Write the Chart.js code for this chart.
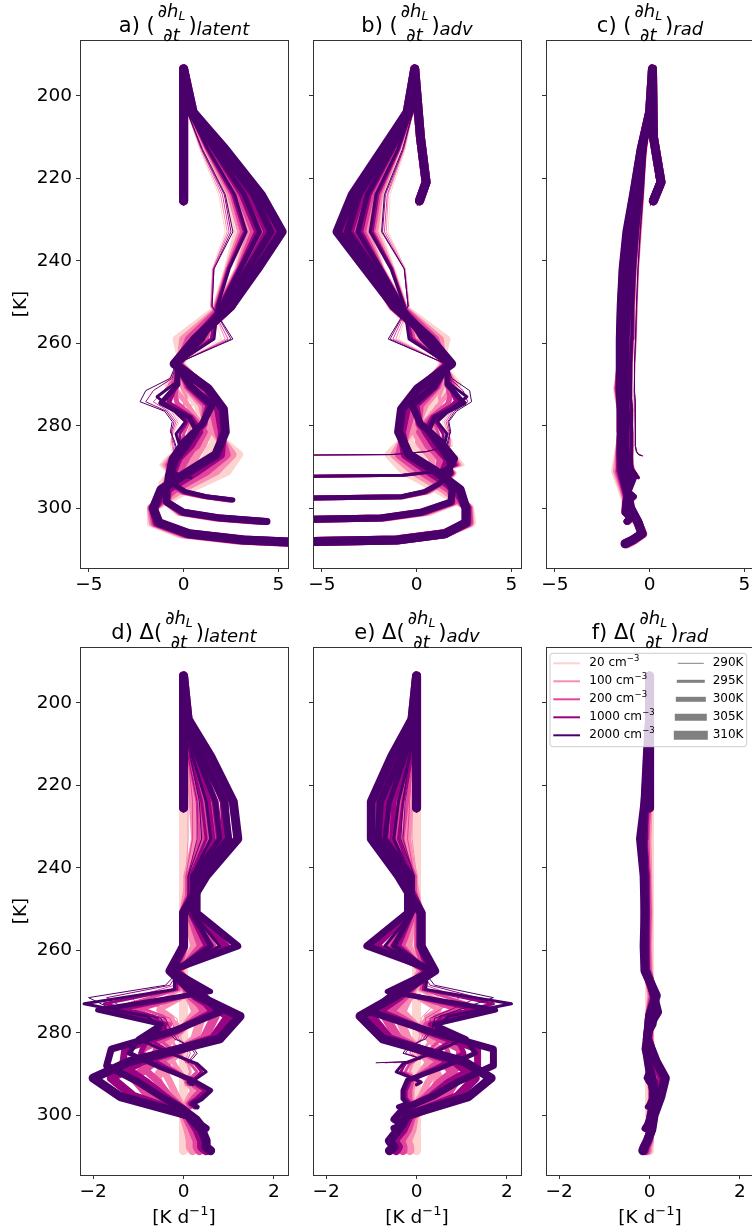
<!DOCTYPE html>
<html>
<head>
<meta charset="utf-8">
<script src="https://cdn.jsdelivr.net/npm/chart.js@4.4.0/dist/chart.umd.min.js"></script>
<style>
  html, body { margin: 0; padding: 0; background: #fff; overflow: hidden; }
  body { width: 752px; height: 1230px; position: relative; }
  canvas { position: absolute; }
</style>
</head>
<body>
<canvas id="pa"></canvas>
<canvas id="pb"></canvas>
<canvas id="pc"></canvas>
<canvas id="pd"></canvas>
<canvas id="pe"></canvas>
<canvas id="pf"></canvas>
<script>
// categories
const concentrations = ['20', '100', '200', '1000', '2000'];
const sstLabels = ['290K', '295K', '300K', '305K', '310K'];
const yTicks = [200, 220, 240, 260, 280, 300];
const xTicksTop = [-5, 0, 5];
const xTicksBottom = [-2, 0, 2];

// temperature levels of each run [K]: surface ... cold point, then stratosphere
const lev290 = [287.3, 287, 286.3, 285, 283.5, 281.5, 279, 276.5, 274.2, 271.5, 268.5, 265, 259, 251, 242, 233, 224, 213, 204, 199.5, 210, 221, 226.5];
const lev295 = [292.6, 292, 291, 289.5, 287.5, 285, 282, 279, 276, 273, 269.5, 265, 259, 251, 242, 233, 224, 213, 204, 198.5, 210, 221, 226];
const lev300 = [298, 297.2, 296, 294, 291.5, 288.5, 285, 281.5, 278, 274.5, 270, 265, 259, 251, 242, 233, 224, 213, 204, 197.5, 210, 221, 225.5];
const lev305 = [303.2, 302.4, 301, 298.5, 295.5, 292, 288, 284, 279.5, 275, 270.5, 265, 259, 251, 242, 233, 224, 213, 204, 195.5, 210, 221, 225.5];
const lev310 = [308.6, 307.7, 306.2, 303.5, 300, 295.5, 291, 287, 281.5, 276, 271, 265, 259, 251, 242, 233, 224, 213, 204, 193.5, 210, 221, 225.5];

const zeroRow = [0, 0, 0, 0, 0, 0, 0, 0, 0, 0, 0, 0, 0, 0, 0, 0, 0, 0, 0, 0, 0, 0, 0];

// a) latent heating [K/d], rows: 20, 100, 200, 1000, 2000 cm-3
const latent290 = [
  [-0.2, -0.4, -0.6, -0.7, -0.7, -0.5, -0.2, -0.5, -0.7, 0.1, -0.3, -0.3, 2.0, 1.4, 1.5, 2.2, 1.85, 0.85, 0.2, 0, 0, 0, 0],
  [-0.15, -0.35, -0.55, -0.6, -0.65, -0.55, -0.3, -0.65, -1.2, -0.55, -0.4, -0.3, 2.2, 1.45, 1.55, 2.3, 1.95, 0.9, 0.2, 0, 0, 0, 0],
  [-0.15, -0.35, -0.5, -0.55, -0.6, -0.6, -0.4, -0.8, -1.6, -1.05, -0.5, -0.35, 2.35, 1.45, 1.55, 2.4, 2.05, 0.95, 0.2, 0, 0, 0, 0],
  [-0.1, -0.3, -0.45, -0.45, -0.55, -0.65, -0.5, -0.9, -2.0, -1.6, -0.6, -0.4, 2.5, 1.5, 1.6, 2.5, 2.15, 0.95, 0.2, 0, 0, 0, 0],
  [-0.1, -0.3, -0.4, -0.4, -0.5, -0.7, -0.6, -1.0, -2.3, -2.0, -0.7, -0.4, 2.6, 1.5, 1.6, 2.6, 2.2, 1.0, 0.2, 0, 0, 0, 0]
];
const latent295 = [
  [0.2, -0.3, -0.9, -1.2, -0.8, 0.1, 0.5, 0.6, 0.2, 0.8, -0.2, -0.2, 0.8, 1.6, 2.2, 2.7, 2.2, 1.1, 0.25, 0, 0, 0, 0],
  [0.25, -0.25, -0.8, -1.05, -0.7, 0.0, 0.25, 0.45, -0.05, 0.15, -0.25, -0.25, 1.05, 1.65, 2.25, 2.9, 2.35, 1.15, 0.25, 0, 0, 0, 0],
  [0.3, -0.25, -0.75, -0.9, -0.65, -0.05, 0.0, 0.3, -0.25, -0.4, -0.3, -0.3, 1.25, 1.7, 2.3, 3.05, 2.5, 1.2, 0.3, 0, 0, 0, 0],
  [0.35, -0.2, -0.65, -0.8, -0.55, -0.15, -0.2, 0.2, -0.45, -0.95, -0.35, -0.35, 1.45, 1.75, 2.35, 3.2, 2.6, 1.25, 0.3, 0, 0, 0, 0],
  [0.4, -0.2, -0.6, -0.7, -0.5, -0.2, -0.4, 0.1, -0.6, -1.4, -0.4, -0.4, 1.6, 1.8, 2.4, 3.3, 2.7, 1.3, 0.3, 0, 0, 0, 0]
];
const latent300 = [
  [2.3, 1.0, -0.3, -1.2, -0.8, 0.1, 1.4, 1.7, 0.8, 0.7, -0.9, -0.1, 0.4, 1.8, 2.8, 3.2, 2.5, 1.3, 0.25, 0, 0, 0, 0],
  [2.4, 1.05, -0.2, -1.0, -0.75, -0.05, 1.05, 1.4, 0.65, 0.15, -0.7, -0.15, 0.6, 1.85, 2.85, 3.45, 2.7, 1.4, 0.25, 0, 0, 0, 0],
  [2.45, 1.1, -0.1, -0.85, -0.7, -0.2, 0.75, 1.15, 0.5, -0.35, -0.55, -0.2, 0.75, 1.9, 2.9, 3.65, 2.9, 1.45, 0.3, 0, 0, 0, 0],
  [2.55, 1.15, 0.0, -0.7, -0.65, -0.3, 0.45, 0.9, 0.4, -0.8, -0.4, -0.25, 0.9, 1.95, 2.95, 3.85, 3.05, 1.55, 0.3, 0, 0, 0, 0],
  [2.6, 1.2, 0.1, -0.6, -0.6, -0.4, 0.2, 0.7, 0.3, -1.2, -0.3, -0.3, 1.0, 2.0, 3.0, 4.0, 3.2, 1.6, 0.3, 0, 0, 0, 0]
];
const latent305 = [
  [3.9, 1.6, -0.3, -0.9, -0.4, 0.2, 1.1, 1.6, 1.2, 0.7, 0.0, -0.1, -0.4, 1.9, 3.1, 3.6, 2.8, 1.5, 0.3, 0, 0, 0, 0],
  [4.05, 1.7, -0.2, -0.9, -0.55, -0.1, 0.6, 1.1, 1.15, 0.95, 0.1, -0.2, -0.05, 2.0, 3.2, 3.9, 3.05, 1.6, 0.3, 0, 0, 0, 0],
  [4.2, 1.8, -0.15, -0.9, -0.7, -0.35, 0.15, 0.7, 1.1, 1.15, 0.2, -0.25, 0.25, 2.05, 3.25, 4.15, 3.3, 1.7, 0.35, 0, 0, 0, 0],
  [4.3, 1.9, -0.05, -0.9, -0.8, -0.6, -0.25, 0.3, 1.05, 1.35, 0.3, -0.35, 0.55, 2.15, 3.35, 4.4, 3.5, 1.8, 0.4, 0, 0, 0, 0],
  [4.4, 2.0, 0.0, -0.9, -0.9, -0.8, -0.6, 0.0, 1.0, 1.5, 0.4, -0.4, 0.8, 2.2, 3.4, 4.6, 3.7, 1.9, 0.4, 0, 0, 0, 0]
];
const latent310 = [
  [6.9, 2.7, -0.2, -1.7, -1.7, 0.2, 2.3, 2.9, 1.4, 0.85, 1.0, -0.2, 0.6, 2.5, 3.4, 4.0, 3.0, 1.6, 0.4, 0, 0, 0, 0],
  [7.1, 2.85, -0.05, -1.6, -1.7, -0.2, 1.7, 2.55, 1.65, 1.25, 1.1, -0.3, 0.6, 2.5, 3.55, 4.35, 3.35, 1.8, 0.4, 0, 0, 0, 0],
  [7.25, 3.0, 0.1, -1.5, -1.65, -0.55, 1.2, 2.25, 1.85, 1.55, 1.15, -0.35, 0.6, 2.5, 3.7, 4.65, 3.6, 1.95, 0.45, 0, 0, 0, 0],
  [7.4, 3.1, 0.2, -1.4, -1.6, -0.9, 0.7, 1.95, 2.05, 1.85, 1.25, -0.45, 0.6, 2.5, 3.8, 4.95, 3.9, 2.1, 0.5, 0, 0, 0, 0],
  [7.5, 3.2, 0.3, -1.3, -1.6, -1.2, 0.3, 1.7, 2.2, 2.1, 1.3, -0.5, 0.6, 2.5, 3.9, 5.2, 4.1, 2.2, 0.5, 0, 0, 0, 0]
];

// b) advection
const adv290 = [
  [-12, -1.4, 0.4, 1.9, 1.85, 1.6, 1.35, 1.7, 1.9, 1.1, 1.45, 1.4, -0.95, -0.4, -0.6, -1.5, -1.4, -0.6, -0.2, -0.05, 0.15, 0.4, 0.05],
  [-12, -1.4, 0.45, 1.8, 1.8, 1.65, 1.45, 1.8, 2.2, 1.6, 1.55, 1.45, -1.1, -0.4, -0.6, -1.6, -1.5, -0.65, -0.2, -0.05, 0.15, 0.4, 0.05],
  [-12, -1.4, 0.45, 1.75, 1.75, 1.7, 1.55, 1.9, 2.45, 2.05, 1.65, 1.5, -1.25, -0.45, -0.65, -1.7, -1.55, -0.7, -0.2, -0.05, 0.15, 0.4, 0.05],
  [-12, -1.35, 0.5, 1.65, 1.7, 1.75, 1.65, 2.0, 2.7, 2.45, 1.75, 1.5, -1.4, -0.45, -0.65, -1.8, -1.65, -0.7, -0.2, -0.05, 0.15, 0.4, 0.05],
  [-12, -1.3, 0.5, 1.6, 1.65, 1.8, 1.7, 2.1, 2.9, 2.8, 1.85, 1.55, -1.5, -0.45, -0.65, -1.85, -1.7, -0.75, -0.2, -0.05, 0.15, 0.4, 0.05]
];
const adv295 = [
  [-12, -0.8, 1.3, 2.45, 2.1, 1.1, 0.65, 0.65, 1.1, 0.55, 1.45, 1.4, 0.3, -0.55, -1.2, -1.95, -1.75, -0.85, -0.25, -0.1, 0.2, 0.45, 0.1],
  [-12, -0.75, 1.25, 2.3, 2.0, 1.2, 0.95, 0.8, 1.3, 1.2, 1.5, 1.45, 0.1, -0.6, -1.25, -2.1, -1.85, -0.9, -0.25, -0.1, 0.2, 0.45, 0.1],
  [-12, -0.75, 1.25, 2.2, 1.95, 1.3, 1.15, 0.9, 1.5, 1.7, 1.55, 1.55, -0.1, -0.6, -1.3, -2.25, -1.95, -0.95, -0.25, -0.1, 0.2, 0.45, 0.1],
  [-12, -0.7, 1.2, 2.1, 1.85, 1.4, 1.4, 1.0, 1.65, 2.25, 1.6, 1.6, -0.25, -0.65, -1.3, -2.35, -2.05, -0.95, -0.3, -0.1, 0.2, 0.45, 0.1],
  [-12, -0.7, 1.2, 2.0, 1.8, 1.45, 1.6, 1.1, 1.8, 2.65, 1.65, 1.65, -0.4, -0.65, -1.35, -2.45, -2.15, -1.0, -0.3, -0.1, 0.2, 0.45, 0.1]
];
const adv300 = [
  [-12, -0.6, 0.7, 1.5, 2.0, 1.15, -0.15, -0.5, 0.55, 0.75, 2.25, 1.3, 0.8, -0.7, -1.8, -2.4, -2.0, -1.05, -0.25, -0.1, 0.2, 0.5, 0.15],
  [-12, -0.65, 0.6, 1.4, 1.95, 1.3, 0.25, -0.15, 0.65, 1.25, 2.05, 1.4, 0.65, -0.75, -1.85, -2.6, -2.2, -1.15, -0.25, -0.1, 0.2, 0.5, 0.15],
  [-12, -0.7, 0.55, 1.35, 1.9, 1.45, 0.55, 0.1, 0.75, 1.7, 1.9, 1.45, 0.5, -0.75, -1.85, -2.8, -2.35, -1.2, -0.25, -0.1, 0.2, 0.5, 0.15],
  [-12, -0.75, 0.45, 1.25, 1.85, 1.6, 0.9, 0.4, 0.85, 2.15, 1.75, 1.55, 0.4, -0.8, -1.9, -2.95, -2.5, -1.25, -0.3, -0.1, 0.2, 0.5, 0.15],
  [-12, -0.8, 0.4, 1.2, 1.8, 1.7, 1.15, 0.6, 0.95, 2.5, 1.6, 1.6, 0.3, -0.8, -1.9, -3.1, -2.6, -1.3, -0.3, -0.1, 0.2, 0.5, 0.15]
];
const adv305 = [
  [-12, -1.6, 0.7, 2.1, 1.55, 0.6, 0.3, -0.4, -0.05, 0.75, 1.4, 1.3, 1.6, -0.75, -2.05, -2.8, -2.25, -1.2, -0.3, -0.1, 0.2, 0.5, 0.15],
  [-12, -1.7, 0.55, 2.0, 1.65, 0.85, 0.8, 0.1, 0.05, 0.45, 1.25, 1.4, 1.25, -0.8, -2.1, -3.05, -2.5, -1.3, -0.3, -0.1, 0.2, 0.5, 0.15],
  [-12, -1.75, 0.45, 1.95, 1.75, 1.1, 1.25, 0.55, 0.1, 0.2, 1.1, 1.5, 1.0, -0.85, -2.15, -3.25, -2.7, -1.4, -0.35, -0.1, 0.2, 0.5, 0.15],
  [-12, -1.85, 0.3, 1.85, 1.85, 1.3, 1.65, 0.95, 0.15, -0.05, 1.0, 1.6, 0.7, -0.9, -2.2, -3.5, -2.9, -1.5, -0.4, -0.1, 0.2, 0.5, 0.15],
  [-12, -1.9, 0.2, 1.8, 1.9, 1.5, 2.0, 1.3, 0.2, -0.25, 0.9, 1.7, 0.5, -0.95, -2.25, -3.65, -3.05, -1.55, -0.4, -0.1, 0.2, 0.5, 0.15]
];
const adv310 = [
  [-12, -1.2, 1.4, 2.9, 2.8, 1.15, -0.65, -1.45, -0.2, 0.45, 0.5, 1.45, 0.65, -1.3, -2.3, -3.2, -2.4, -1.25, -0.4, -0.1, 0.2, 0.5, 0.15],
  [-12, -1.15, 1.45, 2.8, 2.75, 1.5, -0.15, -1.15, -0.4, 0.1, 0.35, 1.55, 0.7, -1.25, -2.4, -3.5, -2.7, -1.4, -0.45, -0.1, 0.2, 0.5, 0.15],
  [-12, -1.1, 1.45, 2.75, 2.7, 1.8, 0.25, -0.9, -0.6, -0.25, 0.25, 1.65, 0.7, -1.25, -2.5, -3.75, -2.95, -1.55, -0.45, -0.1, 0.2, 0.5, 0.15],
  [-12, -1.05, 1.5, 2.65, 2.65, 2.1, 0.65, -0.6, -0.8, -0.55, 0.15, 1.75, 0.75, -1.2, -2.6, -4.0, -3.2, -1.7, -0.5, -0.1, 0.2, 0.5, 0.15],
  [-12, -1.0, 1.5, 2.6, 2.6, 2.3, 1.0, -0.4, -0.95, -0.8, 0.05, 1.85, 0.75, -1.2, -2.7, -4.2, -3.4, -1.8, -0.5, -0.1, 0.2, 0.5, 0.15]
];

// c) radiation
const rad290 = [
  [-0.35, -0.5, -0.65, -0.75, -0.73, -0.75, -0.8, -0.83, -0.85, -0.85, -0.8, -0.76, -0.69, -0.64, -0.57, -0.43, -0.3, -0.18, 0.0, 0.05, 0.15, 0.4, 0.05],
  [-0.37, -0.53, -0.67, -0.75, -0.74, -0.75, -0.78, -0.81, -0.82, -0.83, -0.8, -0.77, -0.71, -0.66, -0.59, -0.45, -0.32, -0.19, 0.0, 0.05, 0.15, 0.4, 0.05],
  [-0.38, -0.55, -0.68, -0.75, -0.74, -0.75, -0.77, -0.79, -0.8, -0.82, -0.8, -0.78, -0.72, -0.67, -0.6, -0.47, -0.33, -0.19, 0.0, 0.05, 0.15, 0.4, 0.05],
  [-0.39, -0.58, -0.69, -0.75, -0.75, -0.75, -0.76, -0.77, -0.77, -0.81, -0.8, -0.79, -0.74, -0.69, -0.61, -0.49, -0.34, -0.2, 0.0, 0.05, 0.15, 0.4, 0.05],
  [-0.4, -0.6, -0.7, -0.75, -0.75, -0.75, -0.75, -0.75, -0.75, -0.8, -0.8, -0.8, -0.75, -0.7, -0.62, -0.5, -0.35, -0.2, 0.0, 0.05, 0.15, 0.4, 0.05]
];
const rad295 = [
  [-0.6, -0.65, -0.8, -0.9, -0.95, -0.9, -0.9, -1.0, -1.05, -1.1, -1.0, -0.95, -0.87, -0.82, -0.74, -0.55, -0.37, -0.21, 0.0, 0.1, 0.2, 0.45, 0.1],
  [-0.6, -0.67, -0.83, -0.92, -0.95, -0.92, -0.92, -0.98, -1.02, -1.07, -1.0, -0.97, -0.89, -0.84, -0.76, -0.58, -0.39, -0.22, 0.0, 0.1, 0.2, 0.45, 0.1],
  [-0.6, -0.68, -0.86, -0.93, -0.95, -0.93, -0.93, -0.97, -0.99, -1.04, -1.0, -0.98, -0.91, -0.86, -0.77, -0.61, -0.41, -0.23, 0.0, 0.1, 0.2, 0.45, 0.1],
  [-0.6, -0.69, -0.88, -0.94, -0.95, -0.94, -0.94, -0.96, -0.97, -1.02, -1.0, -0.99, -0.93, -0.88, -0.79, -0.63, -0.43, -0.24, 0.0, 0.1, 0.2, 0.45, 0.1],
  [-0.6, -0.7, -0.9, -0.95, -0.95, -0.95, -0.95, -0.95, -0.95, -1.0, -1.0, -1.0, -0.95, -0.9, -0.8, -0.65, -0.45, -0.25, 0.0, 0.1, 0.2, 0.45, 0.1]
];
const rad300 = [
  [-0.95, -0.8, -1.15, -1.2, -1.1, -1.1, -1.1, -1.12, -1.25, -1.35, -1.25, -1.12, -1.1, -1.0, -0.92, -0.73, -0.5, -0.25, 0.0, 0.1, 0.2, 0.5, 0.1],
  [-0.97, -0.8, -1.13, -1.18, -1.1, -1.12, -1.13, -1.14, -1.22, -1.3, -1.23, -1.14, -1.13, -1.03, -0.94, -0.77, -0.53, -0.27, 0.0, 0.1, 0.2, 0.5, 0.1],
  [-0.98, -0.8, -1.12, -1.17, -1.1, -1.13, -1.16, -1.16, -1.2, -1.27, -1.22, -1.16, -1.16, -1.06, -0.96, -0.8, -0.56, -0.28, 0.0, 0.1, 0.2, 0.5, 0.1],
  [-0.99, -0.8, -1.11, -1.16, -1.1, -1.14, -1.18, -1.18, -1.17, -1.23, -1.21, -1.18, -1.18, -1.08, -0.98, -0.82, -0.58, -0.29, 0.0, 0.1, 0.2, 0.5, 0.1],
  [-1.0, -0.8, -1.1, -1.15, -1.1, -1.15, -1.2, -1.2, -1.15, -1.2, -1.2, -1.2, -1.2, -1.1, -1.0, -0.85, -0.6, -0.3, 0.0, 0.1, 0.2, 0.5, 0.1]
];
const rad305 = [
  [-1.1, -0.95, -1.3, -1.3, -1.25, -0.9, -1.4, -1.3, -1.3, -1.55, -1.5, -1.3, -1.3, -1.23, -1.15, -0.9, -0.63, -0.35, 0.0, 0.1, 0.2, 0.55, 0.15],
  [-1.13, -0.97, -1.3, -1.28, -1.2, -0.87, -1.4, -1.33, -1.32, -1.49, -1.47, -1.33, -1.33, -1.27, -1.18, -0.95, -0.67, -0.37, 0.0, 0.1, 0.2, 0.55, 0.15],
  [-1.16, -0.98, -1.3, -1.27, -1.17, -0.85, -1.4, -1.36, -1.33, -1.44, -1.44, -1.36, -1.36, -1.3, -1.21, -0.98, -0.7, -0.38, 0.0, 0.1, 0.2, 0.55, 0.15],
  [-1.18, -0.99, -1.3, -1.26, -1.13, -0.82, -1.4, -1.38, -1.34, -1.39, -1.42, -1.38, -1.38, -1.33, -1.23, -1.02, -0.73, -0.39, 0.0, 0.1, 0.2, 0.55, 0.15],
  [-1.2, -1.0, -1.3, -1.25, -1.1, -0.8, -1.4, -1.4, -1.35, -1.35, -1.4, -1.4, -1.4, -1.35, -1.25, -1.05, -0.75, -0.4, 0.0, 0.1, 0.2, 0.55, 0.15]
];
const rad310 = [
  [-1.15, -0.78, -0.35, -0.65, -1.1, -1.45, -1.8, -1.65, -1.45, -1.5, -1.7, -1.45, -1.43, -1.4, -1.28, -1.0, -0.75, -0.4, 0.0, 0.15, 0.2, 0.6, 0.2],
  [-1.2, -0.82, -0.37, -0.63, -1.07, -1.37, -1.7, -1.6, -1.47, -1.5, -1.65, -1.48, -1.47, -1.43, -1.32, -1.06, -0.78, -0.42, 0.0, 0.15, 0.2, 0.6, 0.2],
  [-1.23, -0.85, -0.38, -0.62, -1.05, -1.31, -1.61, -1.57, -1.48, -1.5, -1.62, -1.5, -1.5, -1.45, -1.35, -1.09, -0.8, -0.43, 0.0, 0.15, 0.2, 0.6, 0.2],
  [-1.27, -0.88, -0.39, -0.61, -1.02, -1.25, -1.52, -1.53, -1.49, -1.5, -1.58, -1.53, -1.53, -1.48, -1.38, -1.16, -0.83, -0.44, 0.0, 0.15, 0.2, 0.6, 0.2],
  [-1.3, -0.9, -0.4, -0.6, -1.0, -1.2, -1.45, -1.5, -1.5, -1.5, -1.55, -1.55, -1.55, -1.5, -1.4, -1.2, -0.85, -0.45, 0.0, 0.15, 0.2, 0.6, 0.2]
];

// d) change in latent heating relative to 20 cm-3
const dLatent290 = [
  zeroRow,
  [0.05, 0.05, 0.05, 0.1, 0.05, -0.05, -0.1, -0.15, -0.5, -0.65, -0.1, 0.0, 0.2, 0.05, 0.05, 0.1, 0.1, 0.05, 0, 0, 0, 0, 0],
  [0.05, 0.05, 0.1, 0.15, 0.1, -0.1, -0.2, -0.3, -0.9, -1.15, -0.2, -0.05, 0.35, 0.05, 0.05, 0.2, 0.2, 0.1, 0, 0, 0, 0, 0],
  [0.1, 0.1, 0.15, 0.25, 0.15, -0.15, -0.3, -0.4, -1.3, -1.7, -0.3, -0.1, 0.5, 0.1, 0.1, 0.3, 0.3, 0.1, 0, 0, 0, 0, 0],
  [0.1, 0.1, 0.2, 0.3, 0.2, -0.2, -0.4, -0.5, -1.6, -2.1, -0.4, -0.1, 0.6, 0.1, 0.1, 0.4, 0.35, 0.15, 0, 0, 0, 0, 0]
];
const dLatent295 = [
  zeroRow,
  [0.05, 0.05, 0.1, 0.15, 0.1, -0.1, -0.25, -0.15, -0.25, -0.65, -0.05, -0.05, 0.25, 0.05, 0.05, 0.2, 0.15, 0.05, 0, 0, 0, 0, 0],
  [0.1, 0.05, 0.15, 0.3, 0.15, -0.15, -0.5, -0.3, -0.45, -1.2, -0.1, -0.1, 0.45, 0.1, 0.1, 0.35, 0.3, 0.1, 0.05, 0, 0, 0, 0],
  [0.15, 0.1, 0.25, 0.4, 0.25, -0.25, -0.7, -0.4, -0.65, -1.75, -0.15, -0.15, 0.65, 0.15, 0.15, 0.5, 0.4, 0.15, 0.05, 0, 0, 0, 0],
  [0.2, 0.1, 0.3, 0.5, 0.3, -0.3, -0.9, -0.5, -0.8, -2.2, -0.2, -0.2, 0.8, 0.2, 0.2, 0.6, 0.5, 0.2, 0.05, 0, 0, 0, 0]
];
const dLatent300 = [
  zeroRow,
  [0.1, 0.05, 0.1, 0.2, 0.05, -0.15, -0.35, -0.3, -0.15, -0.55, 0.2, -0.05, 0.2, 0.05, 0.05, 0.25, 0.2, 0.1, 0.0, 0, 0, 0, 0],
  [0.15, 0.1, 0.2, 0.35, 0.1, -0.3, -0.65, -0.55, -0.3, -1.05, 0.35, -0.1, 0.35, 0.1, 0.1, 0.45, 0.4, 0.15, 0.05, 0, 0, 0, 0],
  [0.25, 0.15, 0.3, 0.5, 0.15, -0.4, -0.95, -0.8, -0.4, -1.5, 0.5, -0.15, 0.5, 0.15, 0.15, 0.65, 0.55, 0.25, 0.05, 0, 0, 0, 0],
  [0.3, 0.2, 0.4, 0.6, 0.2, -0.5, -1.2, -1.0, -0.5, -1.9, 0.6, -0.2, 0.6, 0.2, 0.2, 0.8, 0.7, 0.3, 0.05, 0, 0, 0, 0]
];
const dLatent305 = [
  zeroRow,
  [0.15, 0.1, 0.1, 0.0, -0.15, -0.3, -0.5, -0.5, -0.05, 0.25, 0.1, -0.1, 0.35, 0.1, 0.1, 0.3, 0.25, 0.1, 0.0, 0, 0, 0, 0],
  [0.3, 0.2, 0.15, 0.0, -0.3, -0.55, -0.95, -0.9, -0.1, 0.45, 0.2, -0.15, 0.65, 0.15, 0.15, 0.55, 0.5, 0.2, 0.05, 0, 0, 0, 0],
  [0.4, 0.3, 0.25, 0.0, -0.4, -0.8, -1.35, -1.3, -0.15, 0.65, 0.3, -0.25, 0.95, 0.25, 0.25, 0.8, 0.7, 0.3, 0.1, 0, 0, 0, 0],
  [0.5, 0.4, 0.3, 0.0, -0.5, -1.0, -1.7, -1.6, -0.2, 0.8, 0.4, -0.3, 1.2, 0.3, 0.3, 1.0, 0.9, 0.4, 0.1, 0, 0, 0, 0]
];
const dLatent310 = [
  zeroRow,
  [0.2, 0.15, 0.15, 0.1, 0.0, -0.4, -0.6, -0.35, 0.25, 0.4, 0.1, -0.1, 0.0, 0.0, 0.15, 0.35, 0.35, 0.2, 0.0, 0, 0, 0, 0],
  [0.35, 0.3, 0.3, 0.2, 0.05, -0.75, -1.1, -0.65, 0.45, 0.7, 0.15, -0.15, 0.0, 0.0, 0.3, 0.65, 0.6, 0.35, 0.05, 0, 0, 0, 0],
  [0.5, 0.4, 0.4, 0.3, 0.1, -1.1, -1.6, -0.95, 0.65, 1.0, 0.25, -0.25, 0.0, 0.0, 0.4, 0.95, 0.9, 0.5, 0.1, 0, 0, 0, 0],
  [0.6, 0.5, 0.5, 0.4, 0.1, -1.4, -2.0, -1.2, 0.8, 1.25, 0.3, -0.3, 0.0, 0.0, 0.5, 1.2, 1.1, 0.6, 0.1, 0, 0, 0, 0]
];

// e) change in advection
const dAdv290 = [
  zeroRow,
  [-0.3, -0.05, 0.05, -0.1, -0.05, 0.05, 0.1, 0.1, 0.3, 0.5, 0.1, 0.05, -0.15, 0, 0, -0.1, -0.1, -0.05, 0, 0, 0, 0, 0],
  [-0.5, -0.1, 0.05, -0.15, -0.1, 0.1, 0.2, 0.2, 0.55, 0.95, 0.2, 0.1, -0.3, -0.05, -0.05, -0.2, -0.15, -0.1, 0, 0, 0, 0, 0],
  [-0.7, -0.15, 0.1, -0.25, -0.15, 0.15, 0.3, 0.3, 0.8, 1.35, 0.3, 0.1, -0.45, -0.05, -0.05, -0.3, -0.25, -0.1, 0, 0, 0, 0, 0],
  [-0.9, -0.2, 0.1, -0.3, -0.2, 0.2, 0.35, 0.4, 1.0, 1.7, 0.4, 0.15, -0.55, -0.05, -0.05, -0.35, -0.3, -0.15, 0, 0, 0, 0, 0]
];
const dAdv295 = [
  zeroRow,
  [0, 0.05, -0.05, -0.15, -0.1, 0.1, 0.3, 0.15, 0.2, 0.65, 0.05, 0.05, -0.2, -0.05, -0.05, -0.15, -0.1, -0.05, 0, 0, 0, 0, 0],
  [0, 0.05, -0.05, -0.25, -0.15, 0.2, 0.5, 0.25, 0.4, 1.15, 0.1, 0.15, -0.4, -0.05, -0.1, -0.3, -0.2, -0.1, 0, 0, 0, 0, 0],
  [0, 0.1, -0.1, -0.35, -0.25, 0.3, 0.75, 0.35, 0.55, 1.7, 0.15, 0.2, -0.55, -0.1, -0.1, -0.4, -0.3, -0.1, -0.05, 0, 0, 0, 0],
  [0, 0.1, -0.1, -0.45, -0.3, 0.35, 0.95, 0.45, 0.7, 2.1, 0.2, 0.25, -0.7, -0.1, -0.15, -0.5, -0.4, -0.15, -0.05, 0, 0, 0, 0]
];
const dAdv300 = [
  zeroRow,
  [-0.1, -0.05, -0.1, -0.1, -0.05, 0.15, 0.4, 0.35, 0.1, 0.5, -0.2, 0.1, -0.15, -0.05, -0.05, -0.2, -0.2, -0.1, 0, 0, 0, 0, 0],
  [-0.2, -0.1, -0.15, -0.15, -0.1, 0.3, 0.7, 0.6, 0.2, 0.95, -0.35, 0.15, -0.3, -0.05, -0.05, -0.4, -0.35, -0.15, 0, 0, 0, 0, 0],
  [-0.3, -0.15, -0.25, -0.25, -0.15, 0.45, 1.05, 0.9, 0.3, 1.4, -0.5, 0.25, -0.4, -0.1, -0.1, -0.55, -0.5, -0.2, -0.05, 0, 0, 0, 0],
  [-0.4, -0.2, -0.3, -0.3, -0.2, 0.55, 1.3, 1.1, 0.4, 1.75, -0.65, 0.3, -0.5, -0.1, -0.1, -0.7, -0.6, -0.25, -0.05, 0, 0, 0, 0]
];
const dAdv305 = [
  zeroRow,
  [-0.1, -0.1, -0.15, -0.1, 0.1, 0.25, 0.5, 0.5, 0.1, -0.3, -0.15, 0.1, -0.35, -0.05, -0.05, -0.25, -0.25, -0.1, 0, 0, 0, 0, 0],
  [-0.25, -0.15, -0.25, -0.15, 0.2, 0.5, 0.95, 0.95, 0.15, -0.55, -0.3, 0.2, -0.6, -0.1, -0.1, -0.45, -0.45, -0.2, -0.05, 0, 0, 0, 0],
  [-0.4, -0.25, -0.4, -0.25, 0.3, 0.7, 1.35, 1.35, 0.2, -0.8, -0.4, 0.3, -0.9, -0.15, -0.15, -0.7, -0.65, -0.3, -0.1, 0, 0, 0, 0],
  [-0.5, -0.3, -0.5, -0.3, 0.35, 0.9, 1.7, 1.7, 0.25, -1.0, -0.5, 0.4, -1.1, -0.2, -0.2, -0.85, -0.8, -0.35, -0.1, 0, 0, 0, 0]
];
const dAdv310 = [
  zeroRow,
  [-0.15, -0.15, -0.2, -0.1, -0.05, 0.35, 0.5, 0.3, -0.2, -0.4, -0.15, 0.1, 0.05, 0.05, -0.1, -0.3, -0.3, -0.15, -0.05, 0, 0, 0, 0],
  [-0.3, -0.3, -0.35, -0.2, -0.1, 0.65, 0.9, 0.6, -0.4, -0.7, -0.25, 0.2, 0.05, 0.05, -0.2, -0.55, -0.55, -0.3, -0.05, 0, 0, 0, 0],
  [-0.45, -0.4, -0.5, -0.3, -0.15, 0.9, 1.3, 0.85, -0.6, -1.0, -0.35, 0.3, 0.1, 0.1, -0.3, -0.8, -0.8, -0.45, -0.1, 0, 0, 0, 0],
  [-0.6, -0.5, -0.6, -0.4, -0.2, 1.15, 1.65, 1.05, -0.75, -1.25, -0.45, 0.4, 0.1, 0.1, -0.4, -1.0, -1.0, -0.55, -0.1, 0, 0, 0, 0]
];

// f) change in radiative heating
const dRad290 = [
  zeroRow,
  [-0.02, -0.03, -0.02, 0, -0.01, 0, 0.02, 0.02, 0.03, 0.02, 0, -0.01, -0.02, -0.02, -0.02, -0.02, -0.02, -0.01, 0, 0, 0, 0, 0],
  [-0.03, -0.05, -0.03, 0, -0.01, 0, 0.03, 0.04, 0.05, 0.03, 0, -0.02, -0.03, -0.03, -0.03, -0.04, -0.03, -0.01, 0, 0, 0, 0, 0],
  [-0.04, -0.08, -0.04, 0, -0.02, 0, 0.04, 0.06, 0.08, 0.04, 0, -0.03, -0.05, -0.05, -0.04, -0.06, -0.04, -0.02, 0, 0, 0, 0, 0],
  [-0.05, -0.1, -0.05, 0, -0.02, 0, 0.05, 0.08, 0.1, 0.05, 0, -0.04, -0.06, -0.06, -0.05, -0.07, -0.05, -0.02, 0, 0, 0, 0, 0]
];
const dRad295 = [
  zeroRow,
  [0.0, -0.02, -0.03, -0.02, 0.0, -0.02, -0.02, 0.02, 0.03, 0.03, 0.0, -0.02, -0.02, -0.02, -0.02, -0.03, -0.02, -0.01, 0, 0, 0, 0, 0],
  [0.0, -0.03, -0.06, -0.03, 0.0, -0.03, -0.03, 0.03, 0.06, 0.06, 0.0, -0.03, -0.04, -0.04, -0.03, -0.06, -0.04, -0.02, 0, 0, 0, 0, 0],
  [0.0, -0.04, -0.08, -0.04, 0.0, -0.04, -0.04, 0.04, 0.08, 0.08, 0.0, -0.04, -0.06, -0.06, -0.05, -0.08, -0.06, -0.03, 0, 0, 0, 0, 0],
  [0.0, -0.05, -0.1, -0.05, 0.0, -0.05, -0.05, 0.05, 0.1, 0.1, 0.0, -0.05, -0.08, -0.08, -0.06, -0.1, -0.08, -0.04, 0, 0, 0, 0, 0]
];
const dRad300 = [
  zeroRow,
  [-0.02, 0.0, 0.02, 0.02, 0.0, -0.02, -0.03, -0.02, 0.03, 0.05, 0.02, -0.02, -0.03, -0.03, -0.02, -0.04, -0.03, -0.02, 0, 0, 0, 0, 0],
  [-0.03, 0.0, 0.03, 0.03, 0.0, -0.03, -0.06, -0.04, 0.06, 0.08, 0.03, -0.04, -0.06, -0.06, -0.04, -0.07, -0.06, -0.03, 0, 0, 0, 0, 0],
  [-0.04, 0.0, 0.04, 0.04, 0.0, -0.04, -0.08, -0.06, 0.08, 0.12, 0.04, -0.06, -0.08, -0.08, -0.06, -0.1, -0.08, -0.04, 0, 0, 0, 0, 0],
  [-0.05, 0.0, 0.05, 0.05, 0.0, -0.05, -0.1, -0.08, 0.1, 0.15, 0.05, -0.08, -0.1, -0.1, -0.08, -0.12, -0.1, -0.05, 0, 0, 0, 0, 0]
];
const dRad305 = [
  zeroRow,
  [-0.03, -0.02, 0.0, 0.02, 0.05, 0.03, 0.0, -0.03, -0.02, 0.06, 0.03, -0.03, -0.03, -0.04, -0.03, -0.05, -0.04, -0.02, 0, 0, 0, 0, 0],
  [-0.06, -0.03, 0.0, 0.03, 0.08, 0.06, 0.0, -0.06, -0.03, 0.11, 0.06, -0.06, -0.06, -0.07, -0.06, -0.08, -0.07, -0.03, 0, 0, 0, 0, 0],
  [-0.08, -0.04, 0.0, 0.04, 0.12, 0.08, 0.0, -0.08, -0.04, 0.16, 0.08, -0.08, -0.08, -0.1, -0.08, -0.12, -0.1, -0.04, 0, 0, 0, 0, 0],
  [-0.1, -0.05, 0.0, 0.05, 0.15, 0.1, 0.0, -0.1, -0.05, 0.2, 0.1, -0.1, -0.1, -0.12, -0.1, -0.15, -0.12, -0.05, 0, 0, 0, 0, 0]
];
const dRad310 = [
  zeroRow,
  [-0.05, -0.04, 0.0, 0.0, 0.03, 0.08, 0.1, 0.05, 0.0, 0.0, 0.05, -0.03, -0.04, -0.03, -0.04, -0.06, -0.03, -0.02, 0, 0, 0, 0, 0],
  [-0.08, -0.07, -0.03, 0.03, 0.05, 0.14, 0.19, 0.08, -0.03, 0.0, 0.08, -0.05, -0.07, -0.05, -0.07, -0.11, -0.05, -0.03, 0, 0, 0, 0, 0],
  [-0.12, -0.1, -0.04, 0.04, 0.08, 0.2, 0.28, 0.12, -0.04, 0.0, 0.12, -0.08, -0.1, -0.08, -0.1, -0.16, -0.08, -0.04, 0, 0, 0, 0, 0],
  [-0.15, -0.12, -0.05, 0.05, 0.1, 0.25, 0.35, 0.15, -0.05, 0.0, 0.15, -0.1, -0.12, -0.1, -0.12, -0.2, -0.1, -0.05, 0, 0, 0, 0, 0]
];

// styles
const concColors = ['#fcd3cf', '#f98cb2', '#e1449c', '#990381', '#49006a'];
const sstWidths = [1, 3, 5, 7, 9];
const FONT = "'DejaVu Sans', sans-serif";
const levels = [lev290, lev295, lev300, lev305, lev310];

const panels = [
  { id: 'pa', left: 80, top: 40, prefix: 'a) (', sub: 'latent', xr: [-5.47, 5.51], xt: xTicksTop, yLab: true,
    series: [latent290, latent295, latent300, latent305, latent310] },
  { id: 'pb', left: 313, top: 40, prefix: 'b) (', sub: 'adv', xr: [-5.47, 5.51], xt: xTicksTop,
    series: [adv290, adv295, adv300, adv305, adv310] },
  { id: 'pc', left: 546, top: 40, prefix: 'c) (', sub: 'rad', xr: [-5.47, 5.51], xt: xTicksTop,
    series: [rad290, rad295, rad300, rad305, rad310] },
  { id: 'pd', left: 80, top: 647, prefix: 'd) \u0394(', sub: 'latent', xr: [-2.29, 2.31], xt: xTicksBottom, yLab: true, xLab: true,
    series: [dLatent290, dLatent295, dLatent300, dLatent305, dLatent310] },
  { id: 'pe', left: 313, top: 647, prefix: 'e) \u0394(', sub: 'adv', xr: [-2.29, 2.31], xt: xTicksBottom, xLab: true,
    series: [dAdv290, dAdv295, dAdv300, dAdv305, dAdv310] },
  { id: 'pf', left: 546, top: 647, prefix: 'f) \u0394(', sub: 'rad', xr: [-2.29, 2.31], xt: xTicksBottom, xLab: true, legend: true,
    series: [dRad290, dRad295, dRad300, dRad305, dRad310] }
];

function fmtTick(v) {
  return v < 0 ? '\u2212' + Math.abs(v) : String(v);
}

function drawTitle(ctx, cx, top, prefix, sub) {
  const fMain = '21px ' + FONT, fFrac = '18px ' + FONT, fFracIt = 'italic 18px ' + FONT;
  const fL = 'italic 12.5px ' + FONT, fSub = 'italic 18px ' + FONT;
  ctx.font = fMain;
  const wPre = ctx.measureText(prefix).width, wClose = ctx.measureText(')').width;
  ctx.font = fFrac; const wD = ctx.measureText('\u2202').width;
  ctx.font = fFracIt; const wH = ctx.measureText('h').width, wT = ctx.measureText('t').width;
  ctx.font = fL; const wL = ctx.measureText('L').width;
  const wNum = wD + wH + wL, wDen = wD + wT;
  const wFrac = Math.max(wNum, wDen) + 6;
  ctx.font = fSub; const wSub = ctx.measureText(sub).width;
  let x = cx - (wPre + wFrac + wClose + wSub) / 2;
  ctx.fillStyle = '#000';
  ctx.textAlign = 'left';
  ctx.textBaseline = 'alphabetic';
  ctx.font = fMain; ctx.fillText(prefix, x, top - 8.3);
  x += wPre;
  let nx = x + (wFrac - wNum) / 2;
  ctx.font = fFrac; ctx.fillText('\u2202', nx, top - 23); nx += wD;
  ctx.font = fFracIt; ctx.fillText('h', nx, top - 23); nx += wH;
  ctx.font = fL; ctx.fillText('L', nx, top - 20);
  let dx = x + (wFrac - wDen) / 2;
  ctx.font = fFrac; ctx.fillText('\u2202', dx, top + 1); dx += wD;
  ctx.font = fFracIt; ctx.fillText('t', dx, top + 1);
  x += wFrac;
  ctx.font = fMain; ctx.fillText(')', x, top - 8.3);
  x += wClose;
  ctx.font = fSub; ctx.fillText(sub, x, top - 5);
}

function drawLegend(ctx, ca) {
  const x0 = ca.left + 4, y0 = ca.top + 6.3, w = 196.7, h = 93.4, r = 3;
  ctx.save();
  ctx.beginPath();
  ctx.moveTo(x0 + r, y0);
  ctx.arcTo(x0 + w, y0, x0 + w, y0 + h, r);
  ctx.arcTo(x0 + w, y0 + h, x0, y0 + h, r);
  ctx.arcTo(x0, y0 + h, x0, y0, r);
  ctx.arcTo(x0, y0, x0 + w, y0, r);
  ctx.closePath();
  ctx.fillStyle = 'rgba(255,255,255,0.8)';
  ctx.fill();
  ctx.strokeStyle = '#cccccc';
  ctx.lineWidth = 1;
  ctx.stroke();
  ctx.textAlign = 'left';
  ctx.textBaseline = 'middle';
  for (let i = 0; i < 5; i++) {
    const y = ca.top + 16.3 + 18 * i;
    ctx.strokeStyle = concColors[i];
    ctx.lineWidth = 2;
    ctx.lineCap = 'butt';
    ctx.beginPath(); ctx.moveTo(ca.left + 7.3, y); ctx.lineTo(ca.left + 34, y); ctx.stroke();
    ctx.fillStyle = '#000';
    ctx.font = '12px ' + FONT;
    const label = concentrations[i] + ' cm';
    ctx.fillText(label, ca.left + 43.3, y);
    const lw = ctx.measureText(label).width;
    ctx.font = '8.5px ' + FONT;
    ctx.fillText('\u22123', ca.left + 43.5 + lw, y - 4.5);
    ctx.strokeStyle = '#808080';
    ctx.lineWidth = sstWidths[i];
    ctx.lineCap = 'square';
    ctx.beginPath(); ctx.moveTo(ca.left + 132.3, y); ctx.lineTo(ca.left + 157.3, y); ctx.stroke();
    ctx.font = '12px ' + FONT;
    ctx.fillText(sstLabels[i], ca.left + 166.7, y);
  }
  ctx.restore();
}

const decor = {
  id: 'decor',
  afterDraw(chart) {
    const p = chart.config.options.panel;
    const ctx = chart.ctx, ca = chart.chartArea;
    ctx.save();
    ctx.strokeStyle = '#333';
    ctx.lineWidth = 1;
    ctx.strokeRect(ca.left + 0.5, ca.top + 0.5, ca.right - ca.left, ca.bottom - ca.top);
    if (p.legend) drawLegend(ctx, ca);
    drawTitle(ctx, (ca.left + ca.right) / 2, ca.top, p.prefix, p.sub);
    ctx.fillStyle = '#000';
    if (p.yLab) {
      ctx.save();
      ctx.translate(21, (ca.top + ca.bottom) / 2);
      ctx.rotate(-Math.PI / 2);
      ctx.font = '18.5px ' + FONT;
      ctx.textAlign = 'center';
      ctx.textBaseline = 'middle';
      ctx.fillText('[K]', 0, 0);
      ctx.restore();
    }
    if (p.xLab) {
      const base = ca.bottom + 47.5;
      ctx.font = '18.5px ' + FONT;
      const w1 = ctx.measureText('[K d').width, w3 = ctx.measureText(']').width;
      ctx.font = '13px ' + FONT;
      const w2 = ctx.measureText('\u22121').width;
      let x = (ca.left + ca.right) / 2 - (w1 + w2 + w3) / 2;
      ctx.textAlign = 'left';
      ctx.textBaseline = 'alphabetic';
      ctx.font = '18.5px ' + FONT; ctx.fillText('[K d', x, base); x += w1;
      ctx.font = '13px ' + FONT; ctx.fillText('\u22121', x, base - 7.5); x += w2;
      ctx.font = '18.5px ' + FONT; ctx.fillText(']', x, base);
    }
    ctx.restore();
  }
};

function buildChart(p) {
  const canvas = document.getElementById(p.id);
  canvas.width = 308;
  canvas.height = 633;
  canvas.style.left = (p.left - 80) + 'px';
  canvas.style.top = (p.top - 45) + 'px';

  // Chart.js paints the first dataset last, so the list is built back to front:
  // 2000 cm-3 / 310K ends up on top, 20 cm-3 / 290K at the bottom
  const datasets = [];
  concentrations.forEach((c, ci) => {
    sstLabels.forEach((s, si) => {
      const vals = p.series[si][ci];
      datasets.unshift({
        label: c + ' ' + s,
        data: levels[si].map((t, i) => ({ x: vals[i], y: t })),
        showLine: true,
        borderColor: concColors[ci],
        backgroundColor: concColors[ci],
        borderWidth: sstWidths[si],
        borderJoinStyle: 'round',
        borderCapStyle: 'round',
        pointRadius: 0,
        fill: false,
        tension: 0,
        clip: 0
      });
    });
  });

  const tickFont = { family: FONT, size: 18.5 };
  new Chart(canvas, {
    type: 'scatter',
    data: { datasets },
    options: {
      panel: p,
      responsive: false,
      animation: false,
      devicePixelRatio: 1,
      events: [],
      layout: { padding: { left: 0, top: 45, right: 20, bottom: 0 } },
      plugins: { legend: { display: false }, tooltip: { enabled: false } },
      scales: {
        x: {
          type: 'linear', position: 'bottom', min: p.xr[0], max: p.xr[1],
          afterBuildTicks: s => { s.ticks = p.xt.map(v => ({ value: v })); },
          afterFit: s => { s.height = 60; },
          border: { display: false },
          grid: { drawOnChartArea: false, drawTicks: true, tickLength: 4, color: '#333', lineWidth: 1 },
          ticks: { font: tickFont, color: '#000', padding: 2.5, maxRotation: 0, autoSkip: false, callback: v => fmtTick(v) }
        },
        y: {
          type: 'linear', position: 'left', reverse: true, min: 186.5, max: 314.5,
          afterBuildTicks: s => { s.ticks = yTicks.map(v => ({ value: v })); },
          afterFit: s => { s.width = 80; },
          border: { display: false },
          grid: { drawOnChartArea: false, drawTicks: true, tickLength: 4, color: '#333', lineWidth: 1 },
          ticks: { display: !!p.yLab, font: tickFont, color: '#000', padding: 4, autoSkip: false, callback: v => fmtTick(v) }
        }
      }
    },
    plugins: [decor]
  });
}

panels.forEach(buildChart);
</script>
</body>
</html>
